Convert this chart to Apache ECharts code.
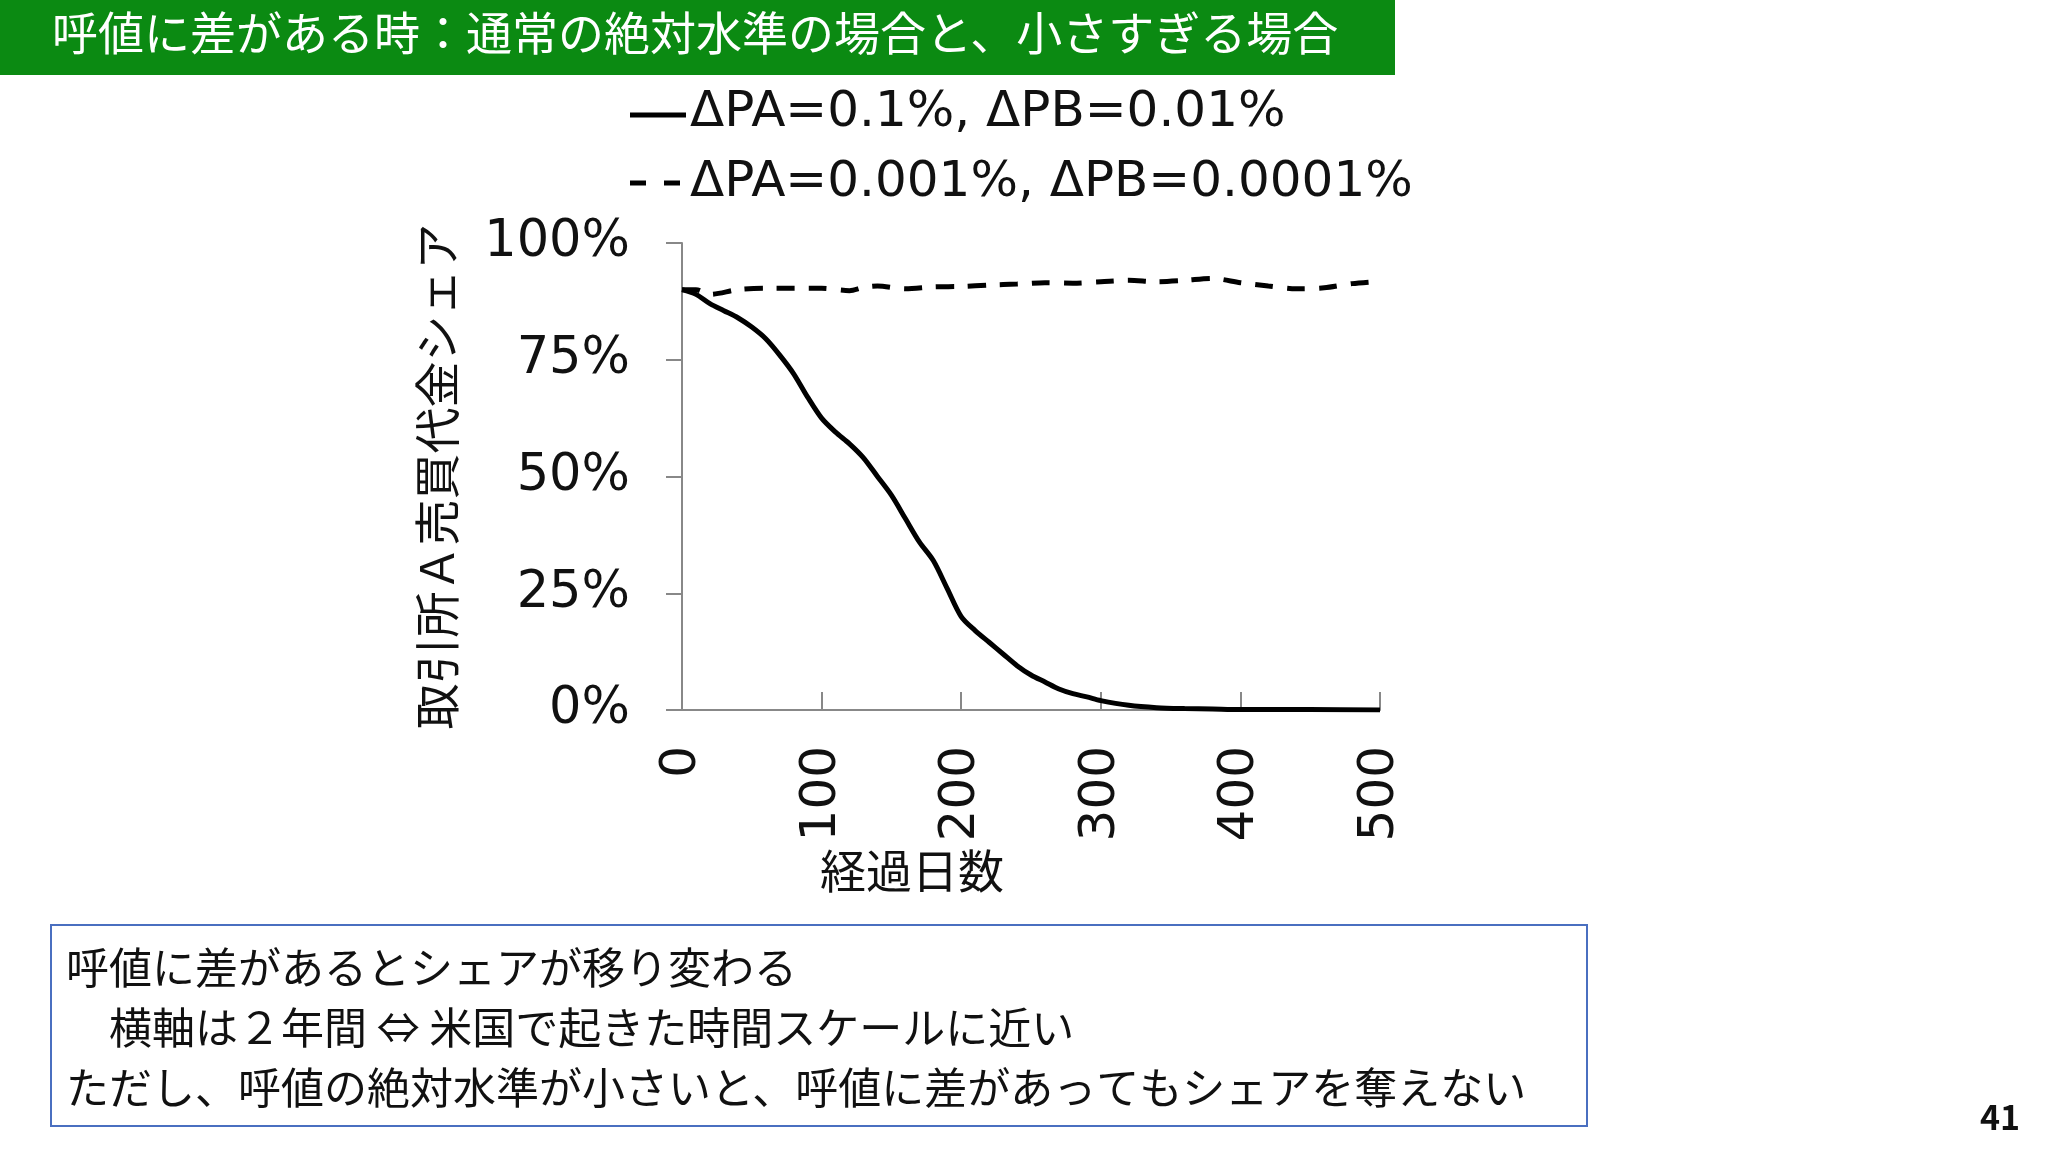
<!DOCTYPE html><html><head><meta charset="utf-8"><script src="https://cdn.jsdelivr.net/npm/echarts@6/dist/echarts.min.js"></script>
<style>body{margin:0}#c{width:2048px;height:1152px}</style></head><body><div id="c"></div><script>
const days=[0,10,20,30,40,50,60,70,80,90,100,110,120,130,140,150,160,170,180,190,200,210,220,230,240,250,260,270,280,290,300,320,340,360,380,400,450,500];
const solid=[90,89,87,85.5,84,82,79.5,76,72,67,62.5,59.5,57,54,50,46,41,36,32,26,20,17,14.5,12,9.5,7.5,6,4.5,3.5,2.8,2,1,0.5,0.3,0.2,0.1,0.1,0];
const dashedX=[0,10,20,40,60,80,100,120,130,140,160,180,200,220,240,260,280,300,320,340,360,380,400,420,440,460,480,500];
const dashed=[90,90,89,90,90.3,90.3,90.3,89.8,90.5,90.8,90.2,90.6,90.7,91,91.2,91.5,91.4,91.7,92,91.7,92,92.4,91.5,90.8,90.2,90.4,91.3,91.8];
const names=['ΔPA=0.1%, ΔPB=0.01%','ΔPA=0.001%, ΔPB=0.0001%'];
const fam='"Noto Sans CJK JP","DejaVu Sans",sans-serif';
const c=echarts.init(document.getElementById('c'));
c.setOption({animation:false,
graphic:[
{type:'rect',shape:{x:0,y:0,width:1395,height:75},style:{fill:'#0b8a12'}},
{type:'text',left:52,top:10,style:{text:'呼値に差がある時：通常の絶対水準の場合と、小さすぎる場合',fill:'#fff',font:'46px '+fam}},
{type:'line',shape:{x1:630,y1:115,x2:686,y2:115},style:{stroke:'#000',lineWidth:5}},
{type:'line',shape:{x1:630,y1:183,x2:686,y2:183},style:{stroke:'#000',lineWidth:5,lineDash:[16,18]}},
{type:'text',left:690,top:88,style:{text:names[0],fill:'#111',font:'50px "DejaVu Sans"'}},
{type:'text',left:690,top:158,style:{text:names[1],fill:'#111',font:'50px "DejaVu Sans"'}},
{type:'text',left:820,top:848,style:{text:'経過日数',fill:'#111',font:'46px '+fam}},
{type:'rect',shape:{x:51,y:925,width:1536,height:201},style:{fill:'none',stroke:'#4a6fc0',lineWidth:2}},
{type:'text',left:66,top:938,style:{text:'呼値に差があるとシェアが移り変わる\n　横軸は２年間 ⇔ 米国で起きた時間スケールに近い\nただし、呼値の絶対水準が小さいと、呼値に差があってもシェアを奪えない',fill:'#111',font:'43px '+fam,lineHeight:60}},
{type:'text',left:1980,top:1100,style:{text:'41',fill:'#111',font:'bold 34px '+fam}}
],
grid:{left:682,right:668,top:243,bottom:442},
xAxis:{type:'value',min:0,max:500,interval:100,
 axisLine:{lineStyle:{color:'#888',width:2}},axisTick:{length:18,inside:true,lineStyle:{color:'#888',width:2}},splitLine:{show:false},
 axisLabel:{rotate:90,fontSize:50,fontFamily:'DejaVu Sans',color:'#111',margin:36}},
yAxis:{type:'value',min:0,max:100,interval:25,name:'取引所Ａ売買代金シェア',nameLocation:'middle',nameGap:222,nameTextStyle:{fontSize:46,fontFamily:fam,color:'#111'},
 axisLine:{show:true,lineStyle:{color:'#888',width:2}},axisTick:{show:true,length:16,lineStyle:{color:'#888',width:2}},splitLine:{show:false},
 axisLabel:{formatter:'{value}%',fontSize:51,fontFamily:'DejaVu Sans',color:'#111',margin:52}},
series:[
{name:names[0],type:'line',showSymbol:false,smooth:0.3,data:days.map((d,i)=>[d,solid[i]]),lineStyle:{color:'#000',width:5},itemStyle:{color:'#000'}},
{name:names[1],type:'line',showSymbol:false,smooth:0.3,data:dashedX.map((d,i)=>[d,dashed[i]]),lineStyle:{color:'#000',width:5,type:[18,14]},itemStyle:{color:'#000'}}
]});
</script></body></html>
